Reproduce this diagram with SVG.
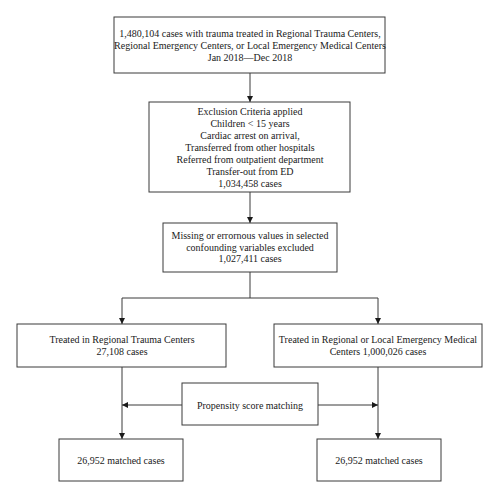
<svg xmlns="http://www.w3.org/2000/svg" width="500" height="499" viewBox="0 0 500 499">
<defs>
<style>
rect.box{fill:#fff;stroke:#3a3a3a;stroke-width:1}
text{font-family:"Liberation Serif","Times New Roman",serif;font-size:10px;fill:#1a1a1a;text-anchor:middle}
.conn line,.conn polyline{fill:none;stroke:#3a3a3a;stroke-width:1}
</style>
<marker id="ah" viewBox="0 0 10 10" refX="10" refY="5" markerWidth="6" markerHeight="6" orient="auto" markerUnits="userSpaceOnUse">
<path d="M0,0 L10,5 L0,10 Z" fill="#1a1a1a"/>
</marker>
</defs>
<rect width="500" height="499" fill="#fff"/>
<g class="conn">
<line x1="250" y1="73" x2="250" y2="102" marker-end="url(#ah)"/>
<line x1="250" y1="192" x2="250" y2="223" marker-end="url(#ah)"/>
<polyline points="250,272 250,298 122,298 122,324" marker-end="url(#ah)"/>
<polyline points="250,298 378,298 378,324" marker-end="url(#ah)"/>
<line x1="122" y1="367" x2="122" y2="439" marker-end="url(#ah)"/>
<line x1="378" y1="367" x2="378" y2="439" marker-end="url(#ah)"/>
<line x1="182" y1="405" x2="122" y2="405" marker-end="url(#ah)"/>
<line x1="318" y1="405" x2="378" y2="405" marker-end="url(#ah)"/>
</g>
<g id="n1">
<rect class="box" x="114" y="17" width="271" height="56"/>
<text x="250" y="37">1,480,104 cases with trauma treated in Regional Trauma Centers,</text>
<text x="250" y="49">Regional Emergency Centers, or Local Emergency Medical Centers</text>
<text x="250" y="61">Jan 2018—Dec 2018</text>
</g>
<g id="n2">
<rect class="box" x="149" y="102" width="201" height="90"/>
<text x="250" y="114.5">Exclusion Criteria applied</text>
<text x="250" y="126.5">Children &lt; 15 years</text>
<text x="250" y="138.5">Cardiac arrest on arrival,</text>
<text x="250" y="150.5">Transferred from other hospitals</text>
<text x="250" y="162.5">Referred from outpatient department</text>
<text x="250" y="174.5">Transfer-out from ED</text>
<text x="250" y="186.5">1,034,458 cases</text>
</g>
<g id="n3">
<rect class="box" x="163" y="223" width="174" height="49"/>
<text x="250" y="238.5">Missing or errornous values in selected</text>
<text x="250" y="250.5">confounding variables excluded</text>
<text x="250" y="262">1,027,411 cases</text>
</g>
<g id="n4">
<rect class="box" x="17" y="324" width="209" height="43"/>
<text x="122" y="342.5">Treated in Regional Trauma Centers</text>
<text x="122" y="355">27,108 cases</text>
</g>
<g id="n5">
<rect class="box" x="274" y="324" width="208" height="43"/>
<text x="378" y="342.5">Treated in Regional or Local Emergency Medical</text>
<text x="378" y="355">Centers 1,000,026 cases</text>
</g>
<g id="n6">
<rect class="box" x="182" y="383" width="136" height="42"/>
<text x="250" y="408.5">Propensity score matching</text>
</g>
<g id="n7">
<rect class="box" x="59" y="439" width="124" height="42"/>
<text x="121" y="463.5">26,952 matched cases</text>
</g>
<g id="n8">
<rect class="box" x="317" y="439" width="124" height="42"/>
<text x="379" y="463.5">26,952 matched cases</text>
</g>
</svg>
